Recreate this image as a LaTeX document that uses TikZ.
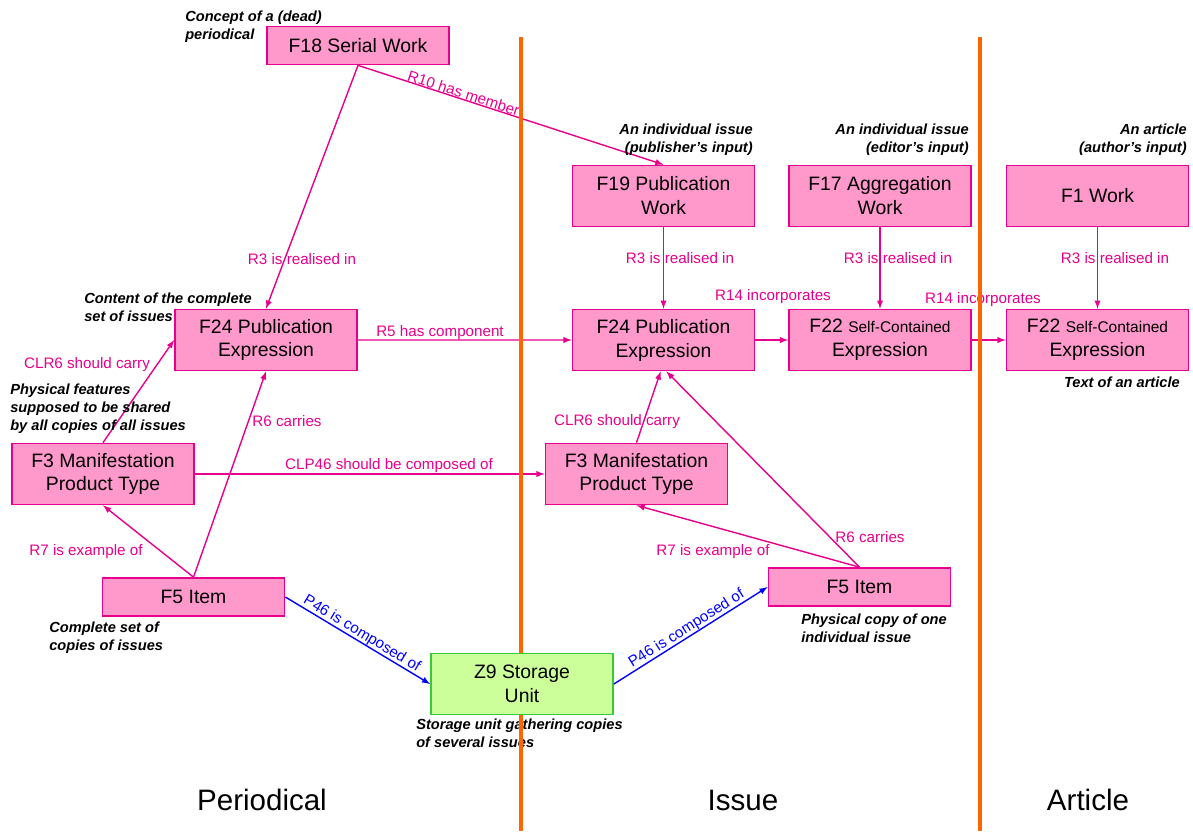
\documentclass[tikz,border=0pt]{standalone}
\usepackage{fontspec}
\setmainfont{Liberation Sans}
\usetikzlibrary{arrows, positioning}

\definecolor{linepink}{RGB}{230,0,140}
\definecolor{boxpink}{RGB}{255,153,204}
\definecolor{storegreen}{RGB}{204,255,153}
\definecolor{storeline}{RGB}{51,204,51}
\definecolor{divorange}{RGB}{255,102,0}

\newcommand{\clsfont}{\fontsize{13.8}{17}\selectfont}
\newcommand{\smallclsfont}{\fontsize{11}{13}\selectfont}
\newcommand{\relfont}{\fontsize{10.8}{12}\selectfont}
\newcommand{\notefont}{\fontsize{10.4}{12.8}\selectfont\bfseries\itshape}
\newcommand{\partfont}{\fontsize{21}{25}\selectfont}

\begin{document}
\begin{tikzpicture}[x=0.025cm, y=-0.025cm, >=latex, node distance=3.6cm, class node/.style={draw=linepink, fill=boxpink, line width=1.2pt, minimum width=4.55cm, minimum height=1.525cm, align=center, inner sep=1pt, font=\clsfont}, flat node/.style={class node, minimum height=0.95cm}, store node/.style={class node, draw=storeline, fill=storegreen}, note node/.style={inner sep=0pt, font=\notefont}, rel label/.style={inner sep=0pt, text=linepink, font=\relfont}, rel line/.style={->, draw=linepink, line width=1pt}, part line/.style={->, draw=blue, line width=1pt}, divider/.style={draw=divorange, line width=3pt}, part title/.style={font=\partfont}] %pixel grid of the slide, y pointing down
\useasboundingbox (0,0) rectangle (1193,831);
\node[flat node](serial) at (358,45.5) {F18 Serial Work};
\node[class node](pubwork) at (663.5,196) {F19 Publication\\Work};
\node[class node](aggwork) at (880,196) {F17 Aggregation\\Work};
\node[class node](work) at (1097.5,196) {F1 Work};
\node[class node](expr) at (266,340) {F24 Publication\\Expression};
\node[class node](pubexpr)[below of=pubwork] {F24 Publication\\Expression};
\node[class node](selfexpr)[below of=aggwork] {F22 {\smallclsfont Self-Contained}\\Expression};
\node[class node](artexpr)[below of=work] {F22 {\smallclsfont Self-Contained}\\Expression};
\node[class node](mantype) at (103,474) {F3 Manifestation\\Product Type};
\node[class node](issuetype) at (636.5,474) {F3 Manifestation\\Product Type};
\node[flat node](item) at (193.5,597) {F5 Item};
\node[flat node](issueitem) at (859.5,587) {F5 Item};
\node[store node](storage) at (522,684) {Z9 Storage\\Unit};

\draw[rel line] (serial.south) -- (expr.north);
\draw[rel line] (serial.south) -- (pubwork.north) node[rel label, sloped, above, pos=.34]{R10 has member};
\draw[rel line] (pubwork) -- (pubexpr);
\draw[rel line] (aggwork) -- (selfexpr);
\draw[rel line] (work) -- (artexpr);
\draw[rel line] (expr) -- (pubexpr);
\draw[rel line] (pubexpr) -- (selfexpr);
\draw[rel line] (selfexpr) -- (artexpr);
\draw[rel line] (mantype.north) -- (expr.west);
\draw[rel line] (item.north) -- (expr.south);
\draw[rel line] (item.north) -- (mantype.south);
\draw[rel line] (mantype) -- (issuetype);
\draw[rel line] (issuetype.north) -- ([xshift=-2pt]pubexpr.south);
\draw[rel line] (issueitem.north) -- ([xshift=2pt]pubexpr.south);
\draw[rel line] (issueitem.north) -- (issuetype.south);
\draw[part line] (item.east) -- (storage.west) node[rel label, text=blue, sloped, above, midway]{P46 is composed of};
\draw[part line] (storage.east) -- (issueitem.west) node[rel label, text=blue, sloped, above, midway]{P46 is composed of};

\node[rel label] at (302,259) {R3 is realised in};
\node[rel label] at (680,258) {R3 is realised in};
\node[rel label] at (898,258) {R3 is realised in};
\node[rel label] at (1115,258) {R3 is realised in};
\node[rel label] at (440,333) {R5 has component};
\node[rel label] at (773,297) {R14 incorporates};
\node[rel label] at (983,300) {R14 incorporates};
\node[rel label] at (87,365) {CLR6 should carry};
\node[rel label] at (287,421) {R6 carries};
\node[rel label] at (86,552) {R7 is example of};
\node[rel label] at (389,466) {CLP46 should be composed of};
\node[rel label] at (617,422) {CLR6 should carry};
\node[rel label] at (870,537) {R6 carries};
\node[rel label] at (713,552) {R7 is example of};

%anchors sit on the last line of each note
\node[note node, align=left, anchor=base west] at (185,39) {Concept of a (dead)\\periodical};
\node[note node, align=right, anchor=base east] at (753,152) {An individual issue\\(publisher’s input)};
\node[note node, align=right, anchor=base east] at (969,152) {An individual issue\\(editor’s input)};
\node[note node, align=right, anchor=base east] at (1187,152) {An article\\(author’s input)};
\node[note node, align=left, anchor=base west] at (84,321) {Content of the complete\\set of issues};
\node[note node, align=left, anchor=base west] at (10,430) {Physical features\\supposed to be shared\\by all copies of all issues};
\node[note node, anchor=base east] at (1180,387) {Text of an article};
\node[note node, align=left, anchor=base west] at (49,650) {Complete set of\\copies of issues};
\node[note node, align=left, anchor=base west] at (801,642) {Physical copy of one\\individual issue};
\node[note node, align=left, anchor=base west] at (416,747) {Storage unit gathering copies\\of several issues};

\coordinate (div top) at (521,37);
\coordinate (div bottom) at (521,831);
\draw[divider] (div top) -- (div top |- storage.north);
\draw[divider] (div bottom |- storage.south) -- (div bottom);
\draw[divider] (980,37) -- (980,831);

\node[part title](periodical) at (262,800) {Periodical};
\node[part title](issue) at (743,800) {Issue};
\node[part title](article) at (1088,800) {Article};
\end{tikzpicture}
\end{document}
